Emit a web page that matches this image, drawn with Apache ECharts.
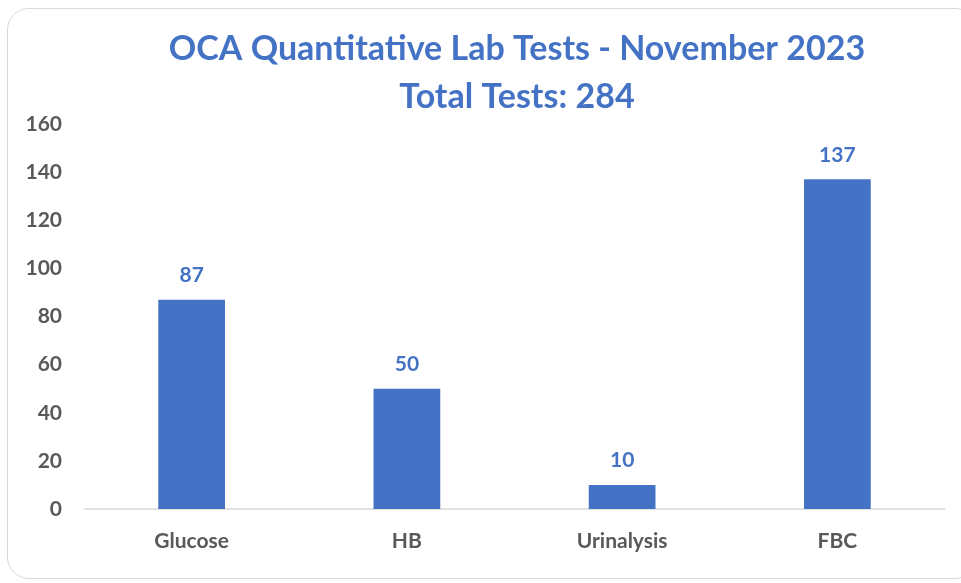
<!DOCTYPE html>
<html>
<head>
<meta charset="utf-8">
<script src="https://cdn.jsdelivr.net/npm/echarts@6/dist/echarts.min.js"></script>
<style>
  html, body { margin: 0; padding: 0; background: #fff; }
  .frame {
    position: absolute;
    left: 7px; top: 8px;
    width: 970px; height: 571px;
    border: 1.5px solid #d9d9d9;
    border-radius: 22px;
    box-sizing: border-box;
  }
  #chart { position: absolute; left: 0; top: 0; width: 961px; height: 583px; }
</style>
</head>
<body>
<div class="frame"></div>
<div id="chart"></div>
<script>
const categories = ['Glucose', 'HB', 'Urinalysis', 'FBC']
const testCounts = [87, 50, 10, 137]
const titleLines = ['OCA Quantitative Lab Tests - November 2023', 'Total Tests: 284']

const chart = echarts.init(document.getElementById('chart'))
chart.setOption({
  animation: false,
  title: {
    text: titleLines.join('\n'),
    left: 512,
    top: 20,
    textAlign: 'center',
    textStyle: {
      fontFamily: 'Lato',
      fontSize: 34,
      fontWeight: 'bold',
      color: '#4472C4',
      lineHeight: 48
    }
  },
  grid: { left: 84, right: 16, top: 124, bottom: 74 },
  xAxis: {
    type: 'category',
    data: categories,
    axisLine: { lineStyle: { color: '#d9d9d9', width: 1.5 } },
    axisTick: { show: false },
    axisLabel: {
      margin: 22,
      fontFamily: 'Lato',
      fontSize: 21,
      fontWeight: 'bold',
      color: '#595959'
    }
  },
  yAxis: {
    type: 'value',
    min: 0,
    max: 160,
    interval: 20,
    splitLine: { show: false },
    axisLine: { show: false },
    axisTick: { show: false },
    axisLabel: {
      margin: 22,
      fontFamily: 'Lato',
      fontSize: 21,
      fontWeight: 'bold',
      color: '#595959'
    }
  },
  series: [
    {
      type: 'bar',
      data: testCounts,
      barWidth: '31%',
      itemStyle: { color: '#4472C4' },
      label: {
        show: true,
        position: 'top',
        distance: 14,
        fontFamily: 'Lato',
        fontSize: 21,
        fontWeight: 'bold',
        color: '#4472C4'
      }
    }
  ]
})
</script>
</body>
</html>
